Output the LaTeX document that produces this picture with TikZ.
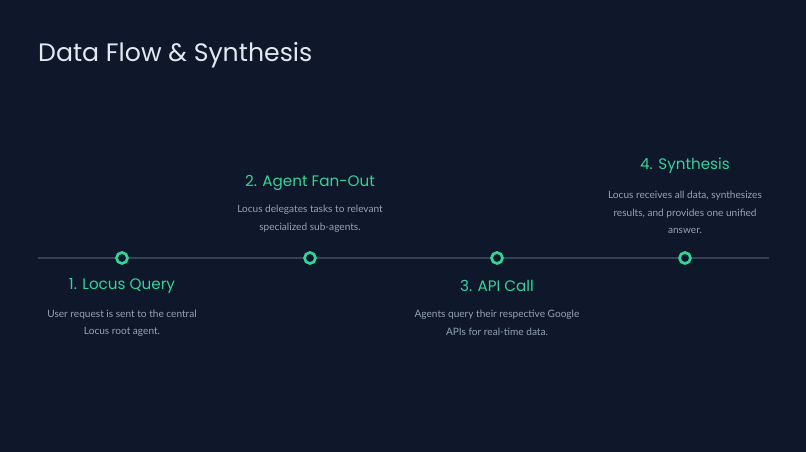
\documentclass[tikz,border=0pt]{standalone}
\usepackage{fontspec}
\setmainfont{Lato}
\newfontfamily\headfont{Poppins}
\usetikzlibrary{positioning}
\definecolor{bgcol}{HTML}{0F172A}
\definecolor{rail}{HTML}{334155}
\definecolor{mint}{HTML}{34D399}
\definecolor{blurbcol}{HTML}{94A3B8}
\definecolor{titlecol}{HTML}{E2E8F0}
\tikzstyle{stage}=[circle,draw=mint,fill=bgcol,line width=2.7pt,minimum size=11pt,inner sep=0pt]
\tikzstyle{track} = [draw=rail,line width=2.5pt]
\tikzstyle{heading}=[font=\headfont\fontsize{15.2}{18}\selectfont,text=mint]
\tikzstyle{blurb}=[font=\fontsize{10.1}{17.5}\selectfont,text=blurbcol,align=center]

\begin{document}
\begin{tikzpicture}[x=1pt,y=1pt]
    % Background and page frame
    \fill[bgcol] (0,0) rectangle (806,452);
    \useasboundingbox (0,0) rectangle (806,452);
    \node[anchor=base west,text=titlecol,font=\headfont\fontsize{25.2}{30}\selectfont,inner sep=0pt] (title) at (38,390) {Data Flow \& Synthesis};
    % First we draw the stages on the timeline
    \coordinate (start) at (38,194);
    \coordinate (stop) at (769,194);
    \foreach \pos/\name in {{(122,194)/s1}, {(310,194)/s2}, {(497,194)/s3}, {(685,194)/s4}}
        \node[stage] (\name) at \pos {};
    % Connect stages with the track
    \foreach \source/ \dest in {start/s1, s1/s2, s2/s3, s3/s4, s4/stop}
        \path[track] (\source) -- (\dest) ;
    % Headings and descriptions
    \foreach \pos/\name/\label in {{(122,166)/h1/{1. Locus Query}}, {(310,269)/h2/{2. Agent Fan-Out}}, {(497,166)/h3/{3. API Call}}, {(685,286)/h4/{4. Synthesis}}}
        \node[heading] (\name) at \pos {\label};
    \foreach \pos/\name/\label in {{(122,129)/d1/{User request is sent to the central\\Locus root agent.}}, {(310,233.5)/d2/{Locus delegates tasks to relevant\\specialized sub-agents.}}, {(497,129)/d3/{Agents query their respective Google\\APIs for real-time data.}}, {(685,239.5)/d4/{Locus receives all data, synthesizes\\results, and provides one unified\\answer.}}}
        \node[blurb] (\name) at \pos {\label};
\end{tikzpicture}
\end{document}
